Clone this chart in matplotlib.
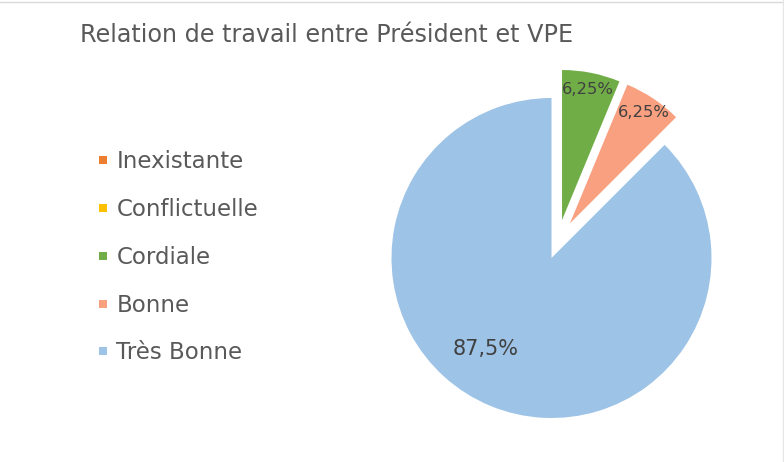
import matplotlib
matplotlib.use("Agg")
import matplotlib.pyplot as plt
from matplotlib.lines import Line2D
import numpy as np

plt.rcParams['font.family'] = ['DejaVu Sans']

# ---- data ----
categories = ["Inexistante", "Conflictuelle", "Cordiale", "Bonne", "Très Bonne"]
values = [0.0, 0.0, 6.25, 6.25, 87.5]
colors = ["#ED7D31", "#FFC000", "#70AD47", "#F8A07F", "#9DC3E6"]
exploded = [False, False, True, True, False]
title = "Relation de travail entre Président et VPE"

# ---- style / layout ----
W, H = 784, 462
DPI = 100
EXPL_RADIUS = 0.9375
EXPL_DIST = 0.1375
EXPL_CENTER = (0.039, 0.1025)
LABEL_COLOR = "#404040"

fig = plt.figure(figsize=(W / DPI, H / DPI), dpi=DPI, facecolor="white")

# pie axes: centre at (551.5, 258) px, 1 data unit = 160 px
ax_w = 400
ax = fig.add_axes([(551.5 - ax_w / 2) / W, (H - 258 - ax_w / 2) / H, ax_w / W, ax_w / H])

base_cols = [c if not e else "none" for c, e in zip(colors, exploded)]
expl_cols = [c if e else "none" for c, e in zip(colors, exploded)]

w_base, _ = ax.pie(values, colors=base_cols, startangle=90, counterclock=False,
                   radius=1.0, wedgeprops=dict(linewidth=0, edgecolor="none"))
w_expl, _ = ax.pie(values, colors=expl_cols, startangle=90, counterclock=False,
                   radius=EXPL_RADIUS, center=EXPL_CENTER,
                   explode=[EXPL_DIST if e else 0 for e in exploded],
                   wedgeprops=dict(linewidth=0, edgecolor="none"))
ax.set_xlim(-1.25, 1.25)
ax.set_ylim(-1.25, 1.25)
ax.set_aspect("equal")
ax.axis("off")

def fmt(v):
    return f"{v:g}".replace(".", ",") + "%"

for i, (v, e) in enumerate(zip(values, exploded)):
    if v <= 0:
        continue
    wdg = w_expl[i] if e else w_base[i]
    cx, cy = wdg.center
    r = wdg.r
    if e:
        ang = np.deg2rad((wdg.theta1 + wdg.theta2) / 2)
        d = 0.885 * r
        ax.text(cx + d * np.cos(ang), cy + d * np.sin(ang), fmt(v),
                ha="center", va="center", fontsize=11.8, color=LABEL_COLOR)
    else:
        ang = np.deg2rad(234)
        d = 0.70 * r
        ax.text(cx + d * np.cos(ang), cy + d * np.sin(ang), fmt(v),
                ha="center", va="center", fontsize=15, color=LABEL_COLOR)

# title
fig.text(80 / W, 1 - 34.5 / H, title, ha="left", va="center", fontsize=17.2, color="#595959")

# legend
handles = [Line2D([], [], linestyle="none", marker="s", markersize=6, color=c,
                  markeredgewidth=0) for c in colors]
leg = fig.legend(handles, categories, loc="upper left",
                 bbox_to_anchor=(97 / W, 1 - 150 / H), frameon=False,
                 fontsize=16.5, labelcolor="#595959", labelspacing=1.085,
                 handlelength=0.55, handletextpad=0.3, borderpad=0, borderaxespad=0)

# faint chart border (top and right)
fig.add_artist(Line2D([0, 1], [1 - 2 / H, 1 - 2 / H], transform=fig.transFigure,
                      color="#D9D9D9", linewidth=1))
fig.add_artist(Line2D([1 - 1 / W, 1 - 1 / W], [0, 1], transform=fig.transFigure,
                      color="#E6E6E6", linewidth=1))

fig.savefig("out.png", dpi=DPI, facecolor="white")
